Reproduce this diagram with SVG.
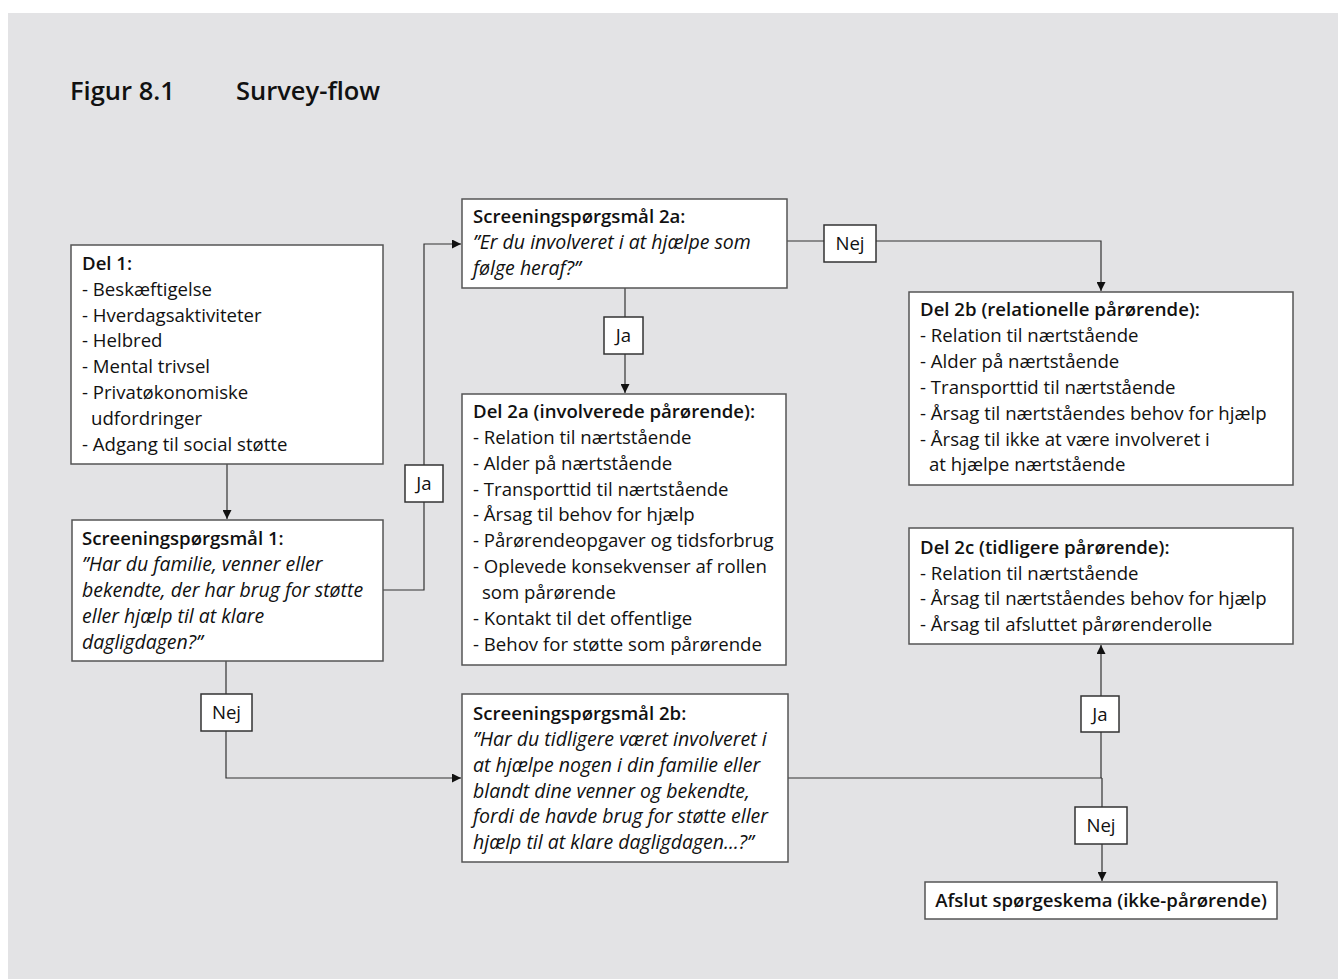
<svg xmlns="http://www.w3.org/2000/svg" width="1338" height="979" viewBox="0 0 1338 979">
<defs>
<marker id="ah" viewBox="0 0 10 10" refX="10" refY="5" markerWidth="9" markerHeight="9" markerUnits="userSpaceOnUse" orient="auto">
<path d="M0,0 L10,5 L0,10 Z" fill="#111"/>
</marker>
<style>
.bg{fill:#e3e3e5}
.box{fill:#fff;stroke:#555;stroke-width:1.5}
.lbl{fill:#fff;stroke:#333;stroke-width:1.5}
.t{font-family:"Open Sans","Noto Sans","Liberation Sans",sans-serif;font-size:18.6px;fill:#111}
.b{font-weight:600}
.i{font-style:italic;font-size:19.5px}
.c{text-anchor:middle}
.title{font-family:"Open Sans","Noto Sans","Liberation Sans",sans-serif;font-size:25.5px;font-weight:600;fill:#111}
.con{fill:none;stroke:#333;stroke-width:1.2}
</style>
</defs>
<rect x="0" y="0" width="1338" height="979" fill="#fff"/>
<rect class="bg" x="8" y="13" width="1330" height="966"/>
<text class="title" x="70" y="100">Figur 8.1</text>
<text class="title" x="236" y="100">Survey-flow</text>

<g id="connectors">
<path class="con" d="M227,464 V519" marker-end="url(#ah)"/>
<path class="con" d="M383,590 H424 V244 H461" marker-end="url(#ah)"/>
<path class="con" d="M625,288 V393" marker-end="url(#ah)"/>
<path class="con" d="M787,241 H1101 V291" marker-end="url(#ah)"/>
<path class="con" d="M226,661 V778 H461" marker-end="url(#ah)"/>
<path class="con" d="M788,778 H1102"/>
<path class="con" d="M1101,778 V645" marker-end="url(#ah)"/>
<path class="con" d="M1102,778 V881" marker-end="url(#ah)"/>
<g id="lbl-ja1"><rect class="lbl" x="405" y="465" width="38" height="37"/><text class="t c" x="424" y="490">Ja</text></g>
<g id="lbl-ja2"><rect class="lbl" x="604" y="317" width="39" height="37"/><text class="t c" x="623.5" y="342">Ja</text></g>
<g id="lbl-nej1"><rect class="lbl" x="824" y="225" width="52" height="37"/><text class="t c" x="850" y="250">Nej</text></g>
<g id="lbl-nej2"><rect class="lbl" x="201" y="694" width="51" height="37"/><text class="t c" x="226.5" y="719">Nej</text></g>
<g id="lbl-ja3"><rect class="lbl" x="1081" y="696" width="38" height="36"/><text class="t c" x="1100" y="721">Ja</text></g>
<g id="lbl-nej3"><rect class="lbl" x="1075" y="807" width="52" height="37"/><text class="t c" x="1101" y="832">Nej</text></g>
</g>

<g id="del1">
<rect class="box" x="71" y="245" width="312" height="219"/>
<text class="t b" x="82" y="270">Del 1:</text>
<text class="t" x="82" y="296">- Beskæftigelse</text>
<text class="t" x="82" y="322">- Hverdagsaktiviteter</text>
<text class="t" x="82" y="347">- Helbred</text>
<text class="t" x="82" y="373">- Mental trivsel</text>
<text class="t" x="82" y="399">- Privatøkonomiske</text>
<text class="t" x="91" y="425">udfordringer</text>
<text class="t" x="82" y="451">- Adgang til social støtte</text>
</g>

<g id="screen1">
<rect class="box" x="72" y="520" width="311" height="141"/>
<text class="t b" x="82" y="545">Screeningspørgsmål 1:</text>
<text class="t i" x="82" y="571">”Har du familie, venner eller</text>
<text class="t i" x="82" y="597">bekendte, der har brug for støtte</text>
<text class="t i" x="82" y="623">eller hjælp til at klare</text>
<text class="t i" x="82" y="649">dagligdagen?”</text>
</g>

<g id="screen2a">
<rect class="box" x="462" y="199" width="325" height="89"/>
<text class="t b" x="473" y="223">Screeningspørgsmål 2a:</text>
<text class="t i" x="473" y="249">”Er du involveret i at hjælpe som</text>
<text class="t i" x="473" y="275">følge heraf?”</text>
</g>

<g id="del2a">
<rect class="box" x="462" y="394" width="324" height="271"/>
<text class="t b" x="473" y="418">Del 2a (involverede pårørende):</text>
<text class="t" x="473" y="444">- Relation til nærtstående</text>
<text class="t" x="473" y="470">- Alder på nærtstående</text>
<text class="t" x="473" y="496">- Transporttid til nærtstående</text>
<text class="t" x="473" y="521">- Årsag til behov for hjælp</text>
<text class="t" x="473" y="547">- Pårørendeopgaver og tidsforbrug</text>
<text class="t" x="473" y="573">- Oplevede konsekvenser af rollen</text>
<text class="t" x="482" y="599">som pårørende</text>
<text class="t" x="473" y="625">- Kontakt til det offentlige</text>
<text class="t" x="473" y="651">- Behov for støtte som pårørende</text>
</g>

<g id="del2b">
<rect class="box" x="909" y="292" width="384" height="193"/>
<text class="t b" x="920" y="316">Del 2b (relationelle pårørende):</text>
<text class="t" x="920" y="342">- Relation til nærtstående</text>
<text class="t" x="920" y="368">- Alder på nærtstående</text>
<text class="t" x="920" y="394">- Transporttid til nærtstående</text>
<text class="t" x="920" y="420">- Årsag til nærtståendes behov for hjælp</text>
<text class="t" x="920" y="446">- Årsag til ikke at være involveret i</text>
<text class="t" x="929" y="471">at hjælpe nærtstående</text>
</g>

<g id="del2c">
<rect class="box" x="909" y="528" width="384" height="116"/>
<text class="t b" x="920" y="554">Del 2c (tidligere pårørende):</text>
<text class="t" x="920" y="580">- Relation til nærtstående</text>
<text class="t" x="920" y="605">- Årsag til nærtståendes behov for hjælp</text>
<text class="t" x="920" y="631">- Årsag til afsluttet pårørenderolle</text>
</g>

<g id="screen2b">
<rect class="box" x="462" y="694" width="326" height="168"/>
<text class="t b" x="473" y="720">Screeningspørgsmål 2b:</text>
<text class="t i" x="473" y="746">”Har du tidligere været involveret i</text>
<text class="t i" x="473" y="772">at hjælpe nogen i din familie eller</text>
<text class="t i" x="473" y="798">blandt dine venner og bekendte,</text>
<text class="t i" x="473" y="823">fordi de havde brug for støtte eller</text>
<text class="t i" x="473" y="849">hjælp til at klare dagligdagen…?”</text>
</g>

<g id="afslut">
<rect class="box" x="925" y="882" width="352" height="37"/>
<text class="t b c" x="1101" y="907">Afslut spørgeskema (ikke-pårørende)</text>
</g>
</svg>
